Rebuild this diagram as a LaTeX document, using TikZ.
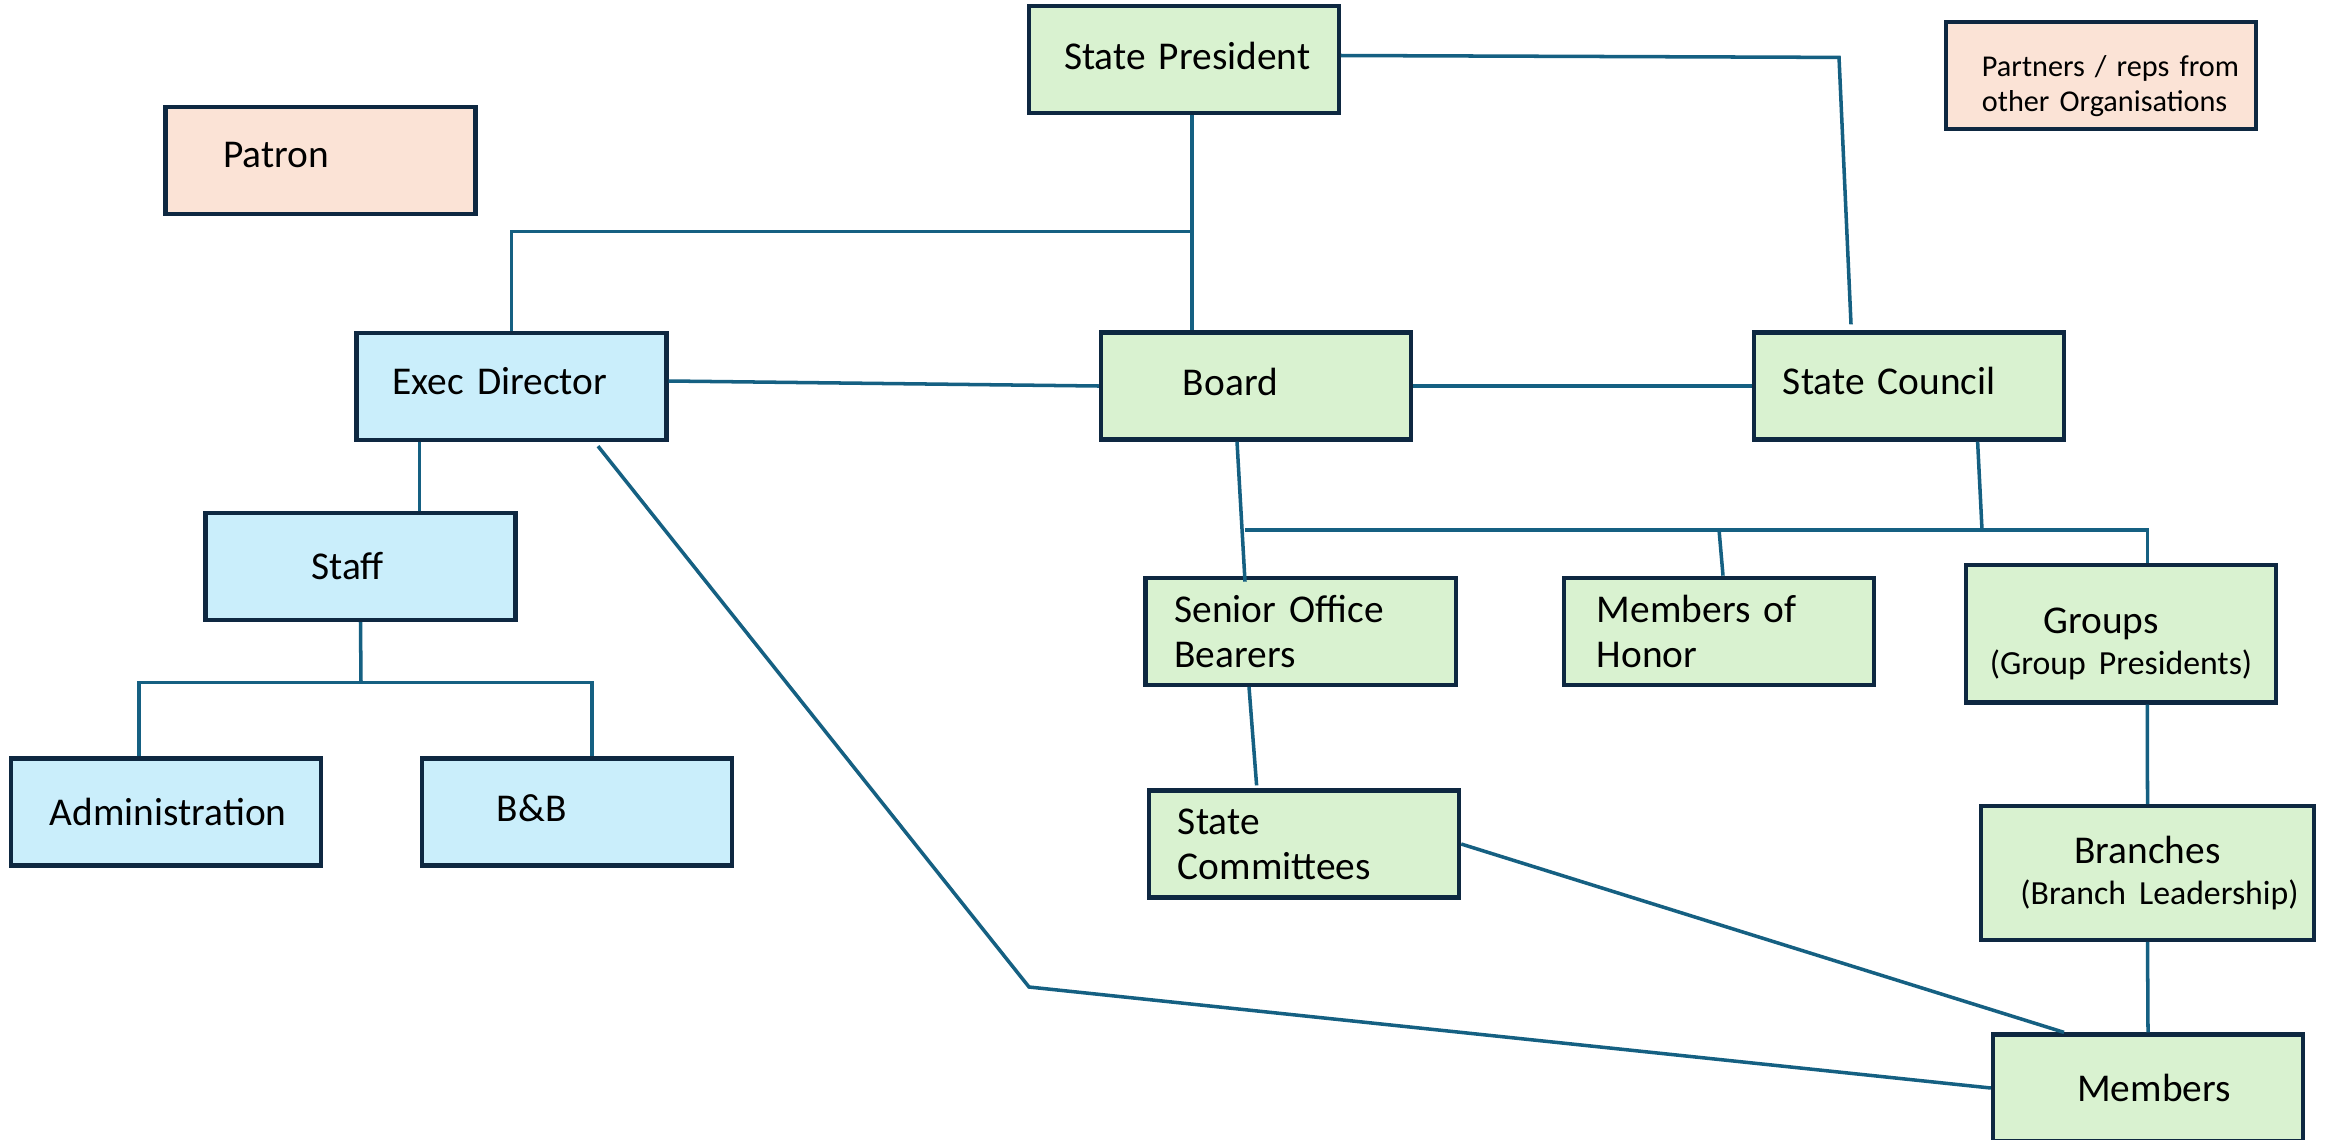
\documentclass[tikz,border=0pt]{standalone}
\usepackage{fontspec}
\setmainfont{Carlito}[WordSpace=0.8]
\usetikzlibrary{calc}
\definecolor{frame}{HTML}{0E2841}
\definecolor{leaf}{HTML}{D9F2D0}
\definecolor{sky}{HTML}{CAEEFB}
\definecolor{peach}{HTML}{FBE3D6}
\definecolor{wire}{HTML}{156082}
\tikzset{
  unit/.style={draw=frame,fill=#1,line width=1.2pt,minimum height=10.7mm,
    text width=31mm,inner xsep=0pt,inner ysep=0pt,
    font=\fontsize{11.2}{12.8}\selectfont},
  unit/.default=leaf,
  inset/.style={execute at begin node={\raggedright\leftskip=#1}},
  lift/.style={text depth=#1},
  link/.style={draw=wire,line width=1pt},
}

\begin{document}
\begin{tikzpicture}[x=0.01cm,y=-0.01cm]
  \useasboundingbox (0,0) rectangle (2331,1139);
  \clip (0,0) rectangle (2331,1139);
  \fill[white] (0,0) rectangle (2331,1139);

  % top row
  \node[unit=peach,inset=5.8mm,lift=1.1mm] (patron) at (320.5,160.5) {Patron};
  \node[unit,inset=3.55mm,lift=0.8mm] (pres) at (1183.7,59.5) {State President};
  \node[unit=peach,inset=3.6mm,text height=4.2mm,font=\fontsize{8.6}{10}\selectfont] (partners) at (2101,75.3)
    {Partners / reps from\\other Organisations};

  % governing bodies
  \node[unit=sky,inset=3.6mm,lift=1.1mm] (exec) at (511.5,386.5) {Exec Director};
  \node[unit,inset=8.2mm,lift=0.8mm] (board) at (1256,386) {Board};
  \node[unit,inset=2.9mm,lift=1mm] (council) at (1909,386) {State Council};

  % office side
  \node[unit=sky,inset=10.6mm] (staff) at (360.5,566.5) {Staff};
  \node[unit=sky,inset=3.9mm] (admin) at (166,812) {Administration};
  \node[unit=sky,inset=7.5mm,lift=0.8mm] (bnb) at (577,812) {B\&B};

  % membership side
  \node[unit,inset=2.9mm] (sob) at (1300.5,631.3) {Senior Office\\Bearers};
  \node[unit,inset=2.9mm] (comm) at (1304,844) {State\\Committees};
  \node[unit,inset=3.3mm] (honor) at (1719,631.3) {Members of\\Honor};
  \node[unit,align=center,text height=4.6mm,minimum height=13.75mm,font=\fontsize{11.2}{11.6}\selectfont] (groups) at (2121,633.7)
    {Groups\hspace*{4mm}\mbox{}\\{\fontsize{9.6}{11.6}\selectfont(Group Presidents)}};
  \node[unit,align=center,text width=33.3mm,minimum height=13.35mm,font=\fontsize{11.2}{11.8}\selectfont] (branches) at (2147.5,873)
    {Branches\\\hspace*{2.4mm}{\fontsize{9.6}{11.8}\selectfont(Branch Leadership)}};
  \node[unit,align=center] (members) at (2148,1088) {\hspace*{1.2mm}Members};

  % connectors
  \coordinate (fork) at (1192,231.5);
  \draw[link] (fork |- pres.south) -- (fork |- board.north);
  \draw[link] (fork) -| (exec.north);
  \coordinate (bend) at (1839,57.4);
  \draw[link] ($(pres.east)+(0,-4)$) -- (bend) -- ($(council.north)+(-58,-6)$);
  \draw[link] ($(exec.east)+(0,-5.5)$) -- (board.west);
  \draw[link] (board.east) -- (council.west);
  \draw[link] ($(exec.south west)+(65,0)$) -- ($(staff.north west)+(216,0)$);
  \coordinate (bus) at (361,682.5);
  \draw[link] (staff.south) -- (bus);
  \draw[link] ($(admin.north)+(-27,0)$) |- (bus) -| ($(bnb.north)+(15,0)$);
  \coordinate (knee) at (1029,987);
  \draw[link] ($(exec.south)+(86.5,4)$) -- (knee) -- (members.west);
  \draw[link] ($(board.south)+(-19,0)$) -- ($(sob.north)+(-55.5,6)$);
  \draw[link] ($(sob.north)+(-55.5,-45.5)$) -| ($(groups.north)+(26.3,0)$);
  \draw[link] ($(council.south)+(68.6,0)$) -- ($(council.south)+(73,88.4)$);
  \draw[link] ($(honor.north)+(0,-46)$) -- ($(honor.north)+(4,0)$);
  \draw[link] ($(sob.south)+(-51.5,0)$) -- ($(comm.north)+(-47.4,-3)$);
  \draw[link] (comm.east) -- ($(members.north)+(-84,0)$);
  \draw[link] ($(groups.south)+(26.3,0)$) -- (branches.north);
  \draw[link] (branches.south) -- (members.north);
\end{tikzpicture}
\end{document}
